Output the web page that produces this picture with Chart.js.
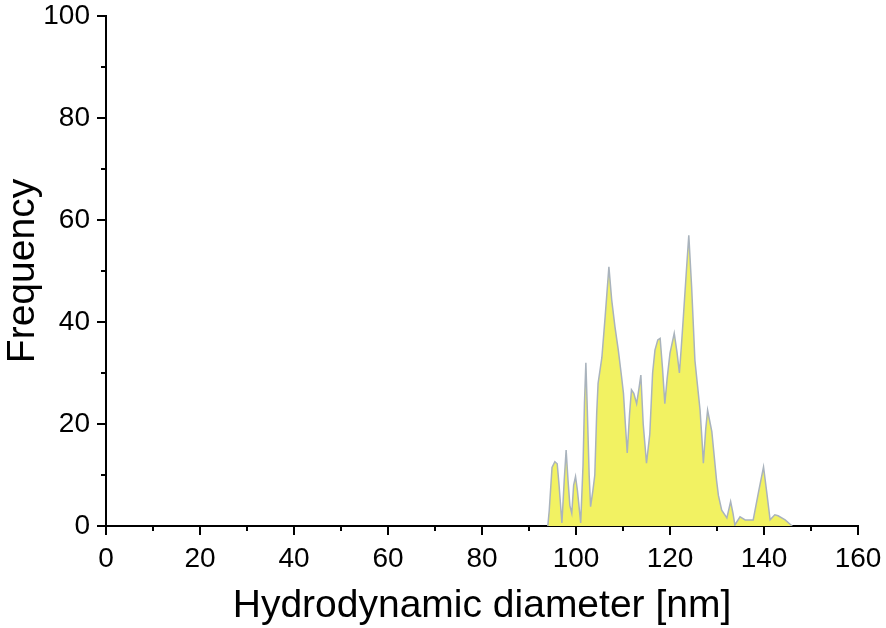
<!DOCTYPE html>
<html>
<head>
<meta charset="utf-8">
<script src="https://cdn.jsdelivr.net/npm/chart.js@4/dist/chart.umd.min.js"></script>
<style>
  html, body { margin: 0; padding: 0; background: #fff; }
  #wrap { width: 886px; height: 628px; }
</style>
</head>
<body>
<div id="wrap"><canvas id="dlsCanvas"></canvas></div>
<script>
// size distribution
const diameters = [
  94.0, 94.3, 94.9, 95.5, 96.0, 96.4, 97.0, 97.5, 97.9, 98.3, 98.7, 99.1, 99.5, 99.9,
  100.3, 101.0, 101.5, 101.8, 102.1, 102.4, 102.8, 103.1, 103.6, 104.0, 104.4, 104.7,
  105.5, 106.2, 107.0, 107.6, 108.3, 109.0, 109.6, 110.1, 110.5, 110.9, 111.4, 111.8,
  112.3, 112.9, 113.4, 113.8, 114.3, 115.0, 115.7, 116.3, 116.8, 117.4, 117.9, 118.4,
  118.9, 119.4, 120.0, 120.9, 121.5, 122.0, 122.4, 122.8, 123.5, 124.0, 124.6, 125.3,
  125.8, 126.4, 126.8, 127.1, 127.6, 128.0, 128.9, 129.9, 130.3, 131.0, 132.1, 132.9,
  133.4, 133.8, 134.9, 136.0, 137.7, 138.8, 139.9, 140.6, 141.3, 142.3, 143.0, 144.5,
  145.5, 146.0
];
const frequency = [
  0, 3, 11.5, 12.6, 12.2, 8, 0.6, 9, 14.9, 9, 4, 2.5, 8, 9.7,
  7, 0.6, 12, 24, 32, 23, 10, 3.8, 7, 10, 22, 28,
  33, 41, 50.8, 44.3, 39, 34.5, 30, 26, 20, 14.3, 22, 26.7,
  26, 24, 27, 29.6, 20, 12.3, 18, 30, 34.5, 36.5, 36.8, 31,
  24, 29, 33.9, 37.8, 34, 30, 35, 40.4, 50.2, 57, 46.9, 32.5,
  28, 22.7, 17, 12.3, 19, 22.7, 18.5, 9, 6, 3.1, 1.6, 4.8,
  2.5, 0.2, 1.8, 1.2, 1.2, 6.5, 11.6, 6.5, 1.2, 2.2, 2.0, 1.2,
  0.4, 0
];

const xMinorTicks = [10, 30, 50, 70, 90, 110, 130, 150];
const yMinorTicks = [10, 30, 50, 70, 90];

const FONT = '"Liberation Sans", Arial, sans-serif';

// Chart.js has no minor ticks, so draw the short ones here
const minorTicks = {
  id: 'minorTicks',
  afterDraw(chart) {
    const { ctx, scales: { x, y } } = chart;
    ctx.save();
    ctx.strokeStyle = '#000';
    ctx.lineWidth = 2;
    ctx.beginPath();
    xMinorTicks.forEach(v => {
      const px = Math.round(x.getPixelForValue(v));
      ctx.moveTo(px, x.top);
      ctx.lineTo(px, x.top + 5);
    });
    yMinorTicks.forEach(v => {
      const py = Math.round(y.getPixelForValue(v));
      ctx.moveTo(y.right, py);
      ctx.lineTo(y.right - 5, py);
    });
    ctx.stroke();
    ctx.restore();
  }
};

const points = diameters.map((d, i) => ({ x: d, y: frequency[i] }));

new Chart(document.getElementById('dlsCanvas'), {
  type: 'line',
  data: {
    datasets: [{
      data: points,
      borderColor: '#a9b3bd',
      borderWidth: 1.5,
      backgroundColor: '#f2f262',
      fill: 'origin',
      tension: 0,
      pointRadius: 0,
    }],
  },
  options: {
    responsive: true,
    maintainAspectRatio: false,
    animation: false,
    layout: { padding: { top: 16, right: 28, left: 0, bottom: 0 } },
    plugins: {
      legend: { display: false },
      tooltip: { enabled: false },
    },
    scales: {
      x: {
        type: 'linear',
        min: 0,
        max: 160,
        afterFit: (s) => { s.height = 102; s.paddingLeft = 0; s.paddingRight = 0; },
        border: { display: true, color: '#000', width: 2 },
        grid: { drawOnChartArea: false, drawTicks: true, tickLength: 9, color: '#000', lineWidth: 2 },
        ticks: { stepSize: 20, padding: 7, color: '#000', font: { family: FONT, size: 28 } },
        title: {
          display: true,
          text: 'Hydrodynamic diameter [nm]',
          color: '#000',
          padding: { top: 0, bottom: -2 },
          font: { family: FONT, size: 39 },
        },
      },
      y: {
        min: 0,
        max: 100,
        afterFit: (s) => { s.width = 106; s.paddingTop = 0; s.paddingBottom = 0; },
        border: { display: true, color: '#000', width: 2 },
        grid: { drawOnChartArea: false, drawTicks: true, tickLength: 9, color: '#000', lineWidth: 2 },
        ticks: { stepSize: 20, padding: 7, color: '#000', font: { family: FONT, size: 28 } },
        title: {
          display: true,
          text: 'Frequency',
          color: '#000',
          padding: 0,
          font: { family: FONT, size: 39 },
        },
      },
    },
  },
  plugins: [minorTicks],
});
</script>
</body>
</html>
